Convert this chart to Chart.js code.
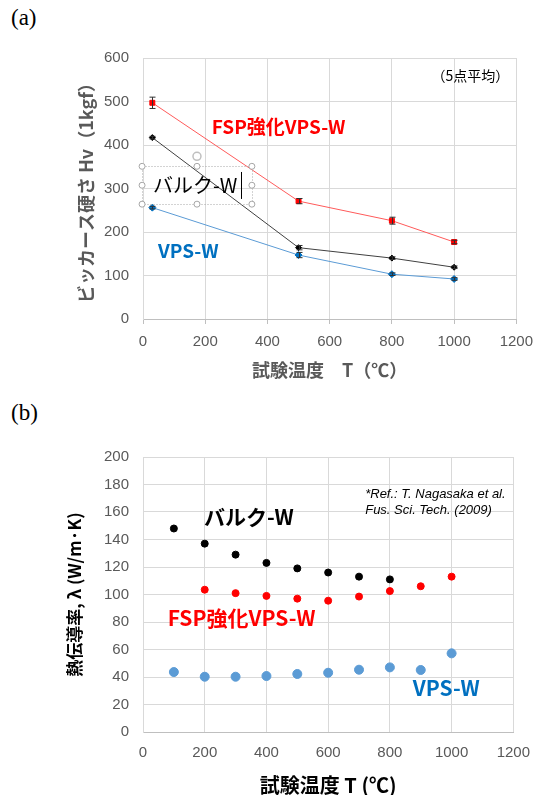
<!DOCTYPE html>
<html>
<head>
<meta charset="utf-8">
<script src="https://cdn.jsdelivr.net/npm/chart.js@4/dist/chart.umd.min.js"></script>
<style>
  body { margin: 0; background: #fff; width: 542px; height: 795px; overflow: hidden; position: relative; }
  .tag { position: absolute; left: 11px; font: 23px 'Liberation Serif', serif; color: #000; }
  #boxA { position: absolute; left: 0; top: 0; }
  #boxB { position: absolute; left: 0; top: 395px; }
</style>
</head>
<body>
<div class="tag" style="top:5px">(a)</div>
<div class="tag" style="top:400px">(b)</div>
<div id="boxA"><canvas id="hardness" width="542" height="395"></canvas></div>
<div id="boxB"><canvas id="conductivity" width="542" height="400"></canvas></div>
<script>
// (a) ビッカース硬さ
const tempA = [30, 500, 800, 1000];
const hvFsp = [497, 271, 226, 177];
const errFsp = [13, 6, 8, 4];
const hvBulk = [417, 164, 140, 119];
const errBulk = [3, 5, 3, 3];
const hvVps = [256, 147, 103, 92];
const errVps = [3, 6, 3, 3];

// (b) 熱伝導率
const tempBulkB = [100, 200, 300, 400, 500, 600, 700, 800];
const kBulk = [148, 137, 129, 123, 119, 116, 113, 111];
const tempFspB = [200, 300, 400, 500, 600, 700, 800, 900, 1000];
const kFsp = [103.5, 101, 99, 97, 95.5, 98.5, 102.5, 106, 113];
const tempVpsB = [100, 200, 300, 400, 500, 600, 700, 800, 900, 1000];
const kVps = [43.6, 40.2, 40.2, 40.7, 42.2, 43.1, 45.3, 47, 45.1, 57.2];

const GRID = '#d9d9d9';
const TICK = '#595959';
const JP = "'Noto Sans CJK JP', sans-serif";

function pts(xs, ys) {
  return xs.map((v, i) => ({x: v, y: ys[i]}));
}

// 誤差棒
const errorBars = {
  id: 'errorBars',
  afterDatasetsDraw(chart) {
    const {ctx, scales: {x, y}} = chart;
    ctx.save();
    ctx.strokeStyle = '#303030';
    ctx.lineWidth = 1;
    chart.data.datasets.forEach(ds => {
      if (!ds.errs) return;
      ds.data.forEach((p, i) => {
        const e = ds.errs[i];
        const px = Math.round(x.getPixelForValue(p.x)) + 0.5;
        const y1 = y.getPixelForValue(p.y - e);
        const y2 = y.getPixelForValue(p.y + e);
        ctx.beginPath();
        ctx.moveTo(px, y1); ctx.lineTo(px, y2);
        ctx.moveTo(px - 3, y1); ctx.lineTo(px + 3, y1);
        ctx.moveTo(px - 3, y2); ctx.lineTo(px + 3, y2);
        ctx.stroke();
      });
    });
    ctx.restore();
  }
};

// 図中の文字 (データ座標で配置)
function notes(items, extra) {
  return {
    id: 'notes',
    afterDraw(chart) {
      const {ctx, scales: {x, y}} = chart;
      ctx.save();
      if (extra) extra(chart, ctx, x, y);
      items.forEach(t => {
        ctx.font = t.font;
        ctx.fillStyle = t.color;
        ctx.textAlign = 'left';
        ctx.textBaseline = 'middle';
        ctx.fillText(t.text, x.getPixelForValue(t.x), y.getPixelForValue(t.y));
      });
      ctx.restore();
    }
  };
}

// テキストボックスの選択枠
function selBox(chart, ctx, x, y) {
  const l = x.getPixelForValue(-3), r = x.getPixelForValue(350);
  const t = y.getPixelForValue(351), b = y.getPixelForValue(264);
  ctx.strokeStyle = '#a6a6a6';
  ctx.lineWidth = 1;
  ctx.setLineDash([1, 2]);
  ctx.strokeRect(Math.round(l) + 0.5, Math.round(t) + 0.5, Math.round(r - l), Math.round(b - t));
  ctx.setLineDash([]);
  const mx = (l + r) / 2, my = (t + b) / 2;
  [[l, t], [mx, t], [r, t], [l, my], [r, my], [l, b], [mx, b], [r, b]].forEach(([hx, hy]) => {
    ctx.beginPath();
    ctx.arc(hx, hy, 3, 0, Math.PI * 2);
    ctx.fillStyle = '#fff';
    ctx.fill();
    ctx.stroke();
  });
  ctx.beginPath();
  ctx.arc(mx, t - 10, 4, 0, Math.PI * 2);
  ctx.strokeStyle = '#bfbfbf';
  ctx.lineWidth = 1.5;
  ctx.stroke();
  ctx.strokeStyle = '#000';
  ctx.lineWidth = 1;
  const cx = Math.round(x.getPixelForValue(314)) + 0.5;
  ctx.beginPath();
  ctx.moveTo(cx, y.getPixelForValue(338));
  ctx.lineTo(cx, y.getPixelForValue(276));
  ctx.stroke();
}

const notesA = [
  {text: '（5点平均）', x: 927, y: 560, font: '14px ' + JP, color: '#000'},
  {text: 'FSP強化VPS-W', x: 221, y: 442, font: 'bold 19px ' + JP, color: '#ff0000'},
  {text: 'バルク-W', x: 32, y: 307, font: '20px ' + JP, color: '#000'},
  {text: 'VPS-W', x: 48, y: 157, font: 'bold 19px ' + JP, color: '#0070c0'}
];

const notesB = [
  {text: '*Ref.: T. Nagasaka et al.', x: 720, y: 173, font: 'italic 13px "Liberation Sans", Arial', color: '#000'},
  {text: 'Fus. Sci. Tech. (2009)', x: 720, y: 161.5, font: 'italic 13px "Liberation Sans", Arial', color: '#000'},
  {text: 'バルク-W', x: 198, y: 156, font: 'bold 21px ' + JP, color: '#000'},
  {text: 'FSP強化VPS-W', x: 80, y: 83, font: 'bold 21px ' + JP, color: '#ff0000'},
  {text: 'VPS-W', x: 874, y: 32, font: 'bold 21px ' + JP, color: '#0070c0'}
];

const tickFont = {family: "'Liberation Sans', Arial", size: 15};
const plain = v => String(v);

new Chart(document.getElementById('hardness'), {
  type: 'scatter',
  data: {
    datasets: [
      {
        label: 'FSP強化VPS-W', data: pts(tempA, hvFsp), errs: errFsp, showLine: true,
        borderColor: '#ff5a5a', borderWidth: 1, pointStyle: 'rect', pointRadius: 3.5,
        pointBackgroundColor: '#ff0000', pointBorderColor: '#ff0000'
      },
      {
        label: 'バルク-W', data: pts(tempA, hvBulk), errs: errBulk, showLine: true,
        borderColor: '#404040', borderWidth: 1, pointStyle: 'rectRot', pointRadius: 3,
        pointBackgroundColor: '#000', pointBorderColor: '#000'
      },
      {
        label: 'VPS-W', data: pts(tempA, hvVps), errs: errVps, showLine: true,
        borderColor: '#5b9bd5', borderWidth: 1, pointStyle: 'rectRot', pointRadius: 3.5,
        pointBackgroundColor: '#0070c0', pointBorderColor: '#0070c0'
      }
    ]
  },
  options: {
    responsive: false,
    animation: false,
    layout: {padding: {left: 75, top: 58, right: 25, bottom: 0}},
    plugins: {legend: {display: false}, tooltip: {enabled: false}},
    scales: {
      x: {
        type: 'linear', min: 0, max: 1200,
        afterFit: s => { s.height = 76; },
        ticks: {stepSize: 200, color: TICK, font: tickFont, padding: 9, maxRotation: 0, callback: plain},
        grid: {color: GRID, tickLength: 5, tickColor: '#bfbfbf'},
        border: {color: '#bfbfbf'},
        title: {display: true, text: '試験温度　T（℃）', color: TICK,
          font: {family: JP, size: 18, weight: 'bold'}, padding: {top: 0, bottom: 14}}
      },
      y: {
        min: 0, max: 600,
        afterFit: s => { s.width = 68; },
        ticks: {stepSize: 100, color: TICK, font: tickFont, padding: 14, callback: plain},
        grid: {color: GRID, drawTicks: false},
        border: {color: GRID},
        title: {display: true, text: 'ビッカース硬さ Hv（1kgf）', color: TICK,
          font: {family: JP, size: 18, weight: 'bold'}, padding: {top: 0, bottom: 0}}
      }
    }
  },
  plugins: [errorBars, notes(notesA, selBox)]
});

new Chart(document.getElementById('conductivity'), {
  type: 'scatter',
  data: {
    datasets: [
      {label: 'バルク-W', data: pts(tempBulkB, kBulk), pointRadius: 3.5,
        pointBackgroundColor: '#000', pointBorderColor: '#000'},
      {label: 'FSP強化VPS-W', data: pts(tempFspB, kFsp), pointRadius: 3.5,
        pointBackgroundColor: '#ff0000', pointBorderColor: '#ff0000'},
      {label: 'VPS-W', data: pts(tempVpsB, kVps), pointRadius: 4.5,
        pointBackgroundColor: '#5b9bd5', pointBorderColor: '#5b9bd5'}
    ]
  },
  options: {
    responsive: false,
    animation: false,
    layout: {padding: {left: 64, top: 62, right: 24, bottom: 0}},
    plugins: {legend: {display: false}, tooltip: {enabled: false}},
    scales: {
      x: {
        type: 'linear', min: 0, max: 1200,
        afterFit: s => { s.height = 63; },
        ticks: {stepSize: 200, color: TICK, font: tickFont, padding: 12, maxRotation: 0, callback: plain},
        grid: {color: GRID, drawTicks: false},
        border: {color: '#bfbfbf'},
        title: {display: true, text: '試験温度 T (℃)', color: '#000',
          font: {family: JP, size: 20, weight: 'bold', lineHeight: 1}, padding: {top: 0, bottom: 0}}
      },
      y: {
        min: 0, max: 200,
        afterFit: s => { s.width = 79; },
        ticks: {stepSize: 20, color: TICK, font: tickFont, padding: 14, callback: plain},
        grid: {color: GRID, drawTicks: false},
        border: {color: GRID},
        title: {display: true, text: '熱伝導率, λ (W/m·K)', color: '#000',
          font: {family: JP, size: 17, weight: 'bold'}, padding: {top: 0, bottom: 0}}
      }
    }
  },
  plugins: [notes(notesB)]
});
</script>
</body>
</html>
